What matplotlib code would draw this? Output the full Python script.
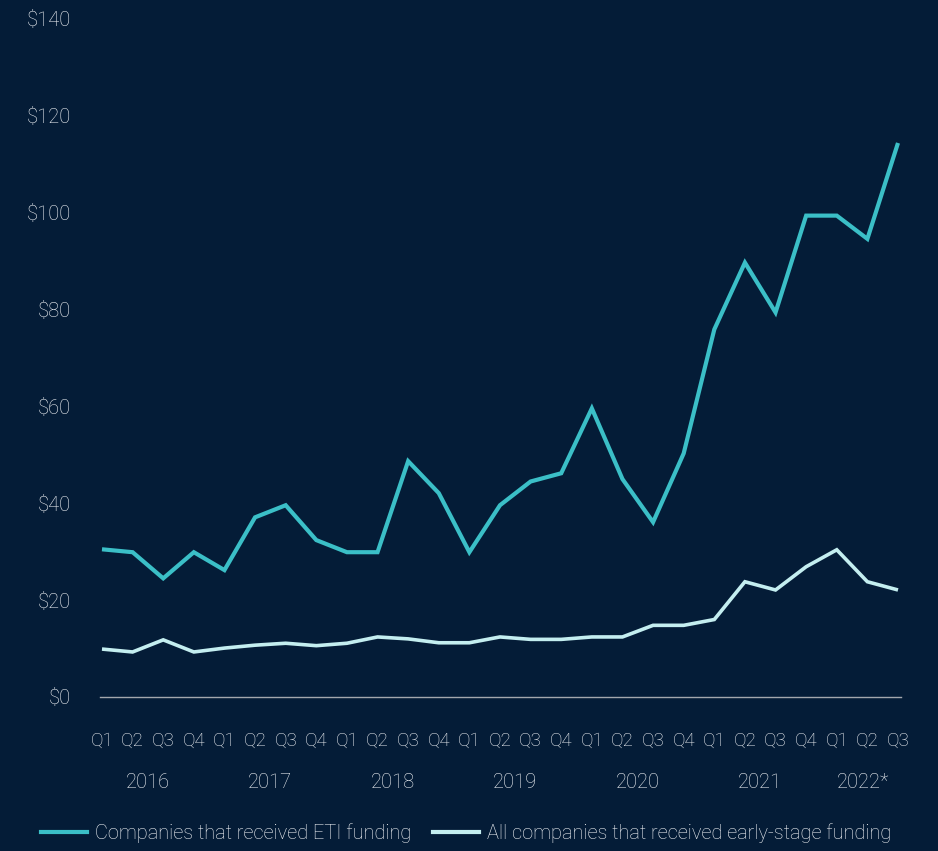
import matplotlib
matplotlib.use("Agg")
import matplotlib.pyplot as plt
from matplotlib.lines import Line2D
from matplotlib.transforms import blended_transform_factory

# Quarterly funding series, 2016 Q1 through 2022 Q3
quarters = ["Q1", "Q2", "Q3", "Q4"] * 6 + ["Q1", "Q2", "Q3"]
years = ["2016", "2017", "2018", "2019", "2020", "2021", "2022*"]
year_centers = [1.5, 5.5, 9.5, 13.5, 17.5, 21.5, 24.85]

eti_funding = [30.5, 29.9, 24.5, 29.9, 26.2, 37.1, 39.6, 32.4,
               29.9, 29.9, 48.7, 42.1, 29.9, 39.6, 44.5, 46.2,
               59.6, 45.0, 36.1, 50.3, 75.9, 89.7, 79.4, 99.4,
               99.4, 94.6, 114.4]
early_stage_funding = [9.9, 9.3, 11.8, 9.3, 10.1, 10.7, 11.1, 10.6,
                       11.1, 12.4, 12.0, 11.2, 11.2, 12.4, 11.9, 11.9,
                       12.4, 12.4, 14.8, 14.8, 16.0, 23.8, 22.1, 26.9,
                       30.4, 23.8, 22.1]
y_ticks = [0, 20, 40, 60, 80, 100, 120, 140]

series_labels = ["Companies that received ETI funding",
                 "All companies that received early-stage funding"]

bg = "#041c37"
teal = "#3bbfc7"
pale = "#c4eef0"
text_color = "#f2f4f7"
fs = 14.5
fs_q = 13.5

plt.rcParams["font.family"] = ["Roboto", "DejaVu Sans"]
plt.rcParams["font.weight"] = "light"

fig = plt.figure(figsize=(9.38, 8.51), dpi=100, facecolor=bg)
ax = fig.add_axes([100 / 938, (851 - 697) / 851, 801 / 938, 678 / 851])
ax.set_facecolor(bg)

x = list(range(len(quarters)))
ax.plot(x, eti_funding, color=teal, lw=3.0, solid_joinstyle="miter",
        solid_capstyle="butt", zorder=3)
ax.plot(x, early_stage_funding, color=pale, lw=2.6, solid_joinstyle="miter",
        solid_capstyle="butt", zorder=3)

ax.set_xlim(-0.065, 26.098)
ax.set_ylim(0, 140)

for side in ["top", "right", "left"]:
    ax.spines[side].set_visible(False)
ax.spines["bottom"].set_color("#a3a7ad")
ax.spines["bottom"].set_linewidth(1.0)

ax.set_yticks(y_ticks)
ax.set_yticklabels([f"${v}" for v in y_ticks])
ax.set_xticks(x)
ax.set_xticklabels(quarters)
ax.tick_params(axis="y", length=0, pad=21, labelsize=fs, labelcolor=text_color)
ax.tick_params(axis="x", length=0, pad=25, labelsize=fs_q, labelcolor=text_color)

trans = blended_transform_factory(ax.transData, fig.transFigure)
for yr, cx in zip(years, year_centers):
    ax.text(cx, 1 - 782 / 851, yr, transform=trans, ha="center", va="center",
            fontsize=fs, color=text_color)

handles = [Line2D([], [], color=teal, lw=3.0),
           Line2D([], [], color=pale, lw=3.0)]
leg = fig.legend(handles, series_labels, loc="center",
                 bbox_to_anchor=(466 / 938, 1 - 833 / 851), ncol=2,
                 frameon=False, fontsize=14.4, handlelength=2.3,
                 handletextpad=0.4, columnspacing=1.1, borderaxespad=0,
                 borderpad=0)
for t in leg.get_texts():
    t.set_color(text_color)

fig.savefig("out.png", dpi=100, facecolor=bg)
